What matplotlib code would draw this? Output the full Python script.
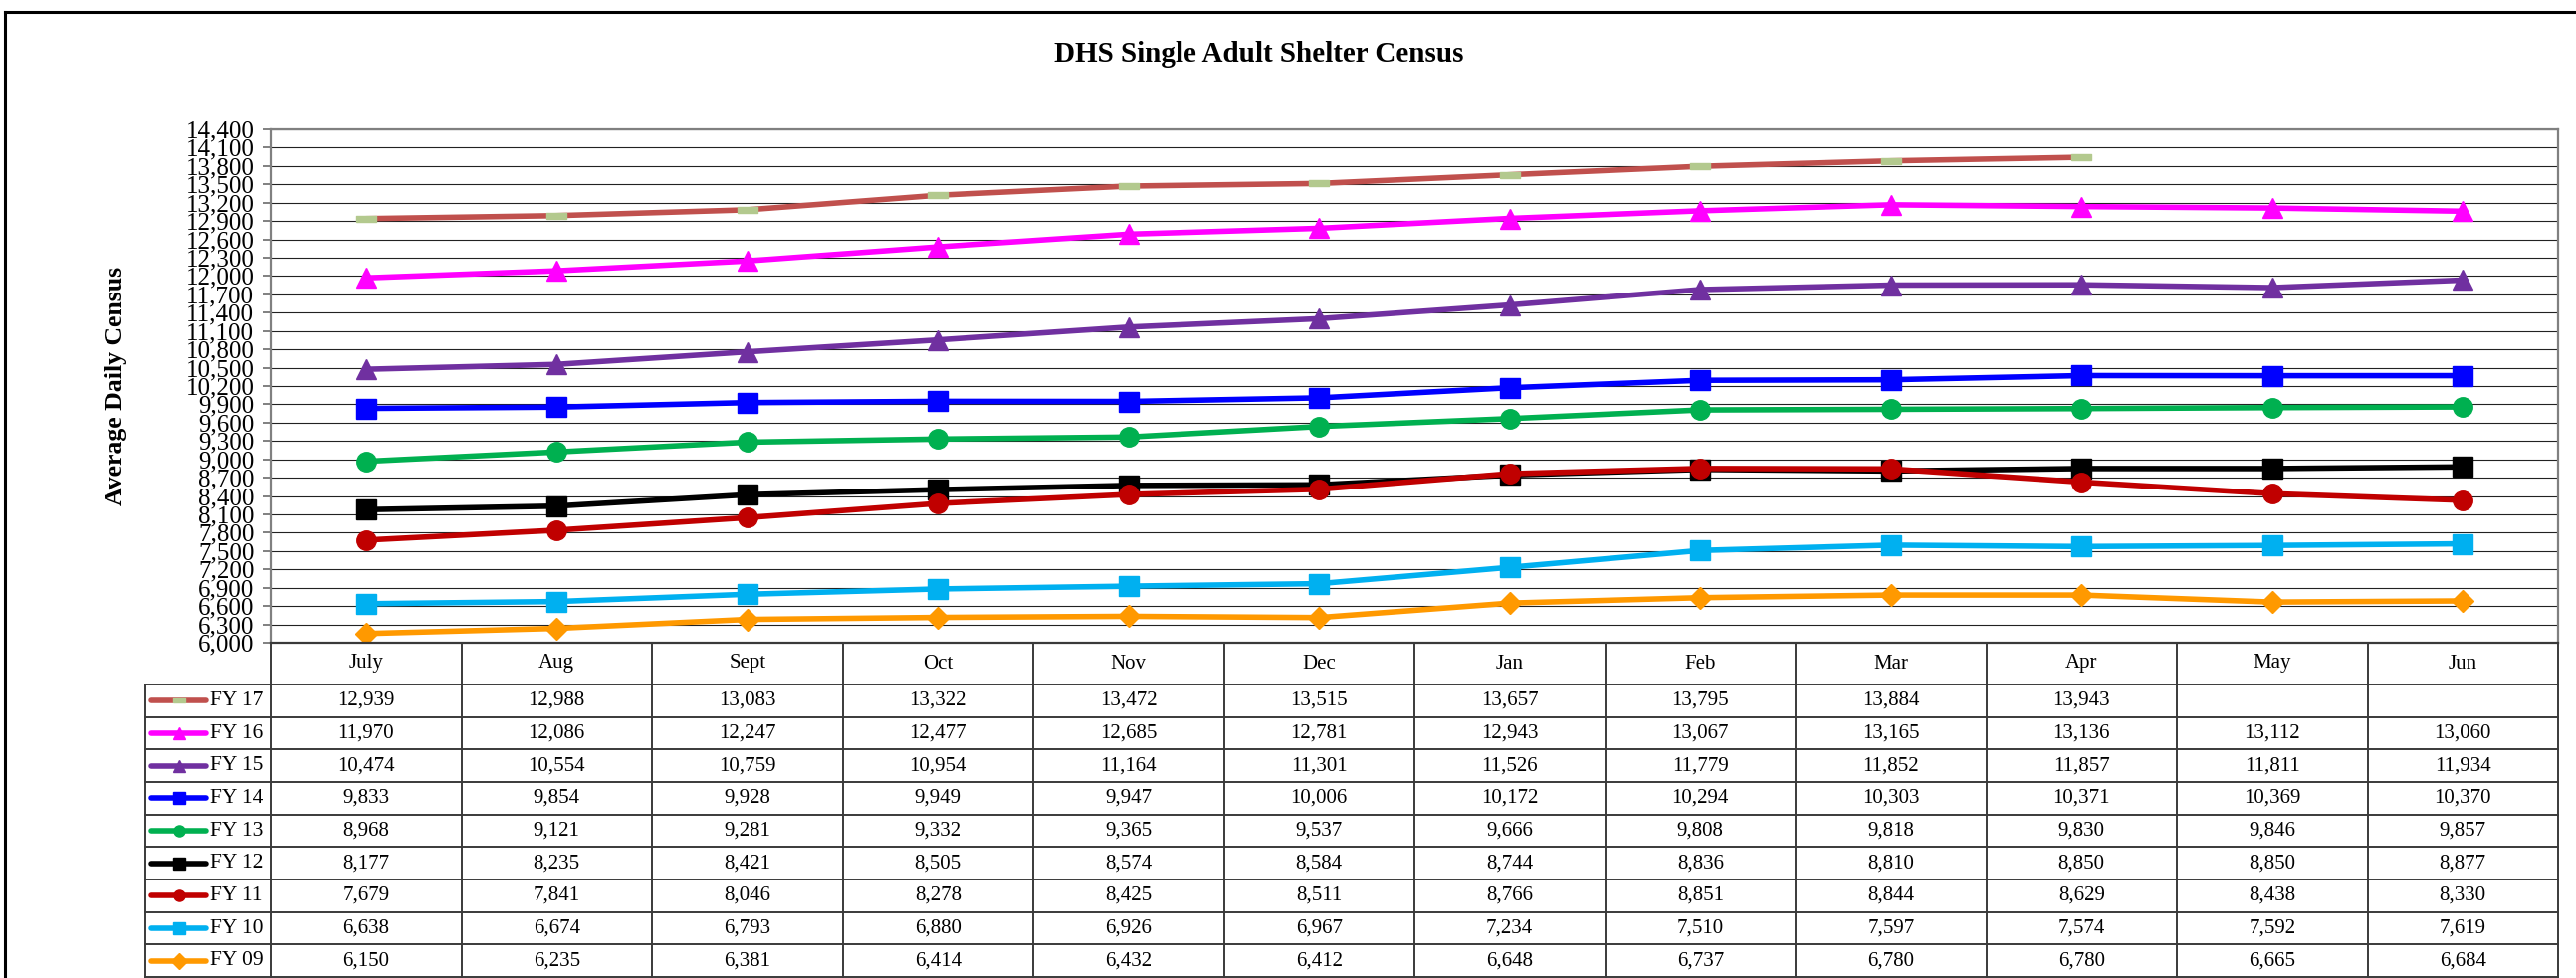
#!/usr/bin/env python3
# -*- coding:utf-8 -*-

import numpy as np
import matplotlib
matplotlib.use('Agg')
import matplotlib.pyplot as plt
from matplotlib.lines import Line2D

plt.rcParams['font.family'] = ['Liberation Serif', 'DejaVu Serif']

## Data: average daily census by fiscal year
months = ["July", "Aug", "Sept", "Oct", "Nov", "Dec", "Jan", "Feb", "Mar", "Apr", "May", "Jun"]
series_names = ["FY 17", "FY 16", "FY 15", "FY 14", "FY 13", "FY 12", "FY 11", "FY 10", "FY 09"]

fy17 = [12939, 12988, 13083, 13322, 13472, 13515, 13657, 13795, 13884, 13943, np.nan, np.nan]
fy16 = [11970, 12086, 12247, 12477, 12685, 12781, 12943, 13067, 13165, 13136, 13112, 13060]
fy15 = [10474, 10554, 10759, 10954, 11164, 11301, 11526, 11779, 11852, 11857, 11811, 11934]
fy14 = [9833, 9854, 9928, 9949, 9947, 10006, 10172, 10294, 10303, 10371, 10369, 10370]
fy13 = [8968, 9121, 9281, 9332, 9365, 9537, 9666, 9808, 9818, 9830, 9846, 9857]
fy12 = [8177, 8235, 8421, 8505, 8574, 8584, 8744, 8836, 8810, 8850, 8850, 8877]
fy11 = [7679, 7841, 8046, 8278, 8425, 8511, 8766, 8851, 8844, 8629, 8438, 8330]
fy10 = [6638, 6674, 6793, 6880, 6926, 6967, 7234, 7510, 7597, 7574, 7592, 7619]
fy09 = [6150, 6235, 6381, 6414, 6432, 6412, 6648, 6737, 6780, 6780, 6665, 6684]

all_series = [fy17, fy16, fy15, fy14, fy13, fy12, fy11, fy10, fy09]

# flat green bar used as the FY 17 marker
bar_marker = [(-1, -0.3), (1, -0.3), (1, 0.3), (-1, 0.3), (-1, -0.3)]

styles = [
    dict(color='#C0504D', marker=bar_marker, mfc='#B3C98E', mec='#B3C98E'),
    dict(color='#FF00FF', marker='^'),
    dict(color='#7030A0', marker='^'),
    dict(color='#0000FF', marker='s'),
    dict(color='#00B050', marker='o'),
    dict(color='#000000', marker='s'),
    dict(color='#C00000', marker='o'),
    dict(color='#00B0F0', marker='s'),
    dict(color='#FF9900', marker='D'),
]

W, H = 2588, 983
fig = plt.figure(figsize=(W / 100, H / 100), dpi=100)

# pixel layout
plot_left, plot_right = 272, 2570
plot_top, plot_bottom = 130, 646
tab_left, tab_bottom = 146, 982

ax = fig.add_axes([plot_left / W, 1 - plot_bottom / H,
                   (plot_right - plot_left) / W, (plot_bottom - plot_top) / H])

x = np.arange(len(months))
for vals, st in zip(all_series, styles):
    st = dict(st)
    ms = 11 if st['marker'] == 'D' else 14
    if st['marker'] is bar_marker:
        ms = 14.5
    ax.plot(x, vals, lw=4, ms=ms, color=st.pop('color'), **st,
            solid_capstyle='round', solid_joinstyle='round')

ax.set_xlim(-0.5, 11.5)
ax.set_ylim(6000, 14400)
ax.set_yticks(np.arange(6000, 14401, 300))
ax.set_yticklabels(['{:,}'.format(v) for v in range(6000, 14401, 300)], fontsize=18)
ax.set_xticks([])
ax.yaxis.grid(True, color='#222222', lw=0.8)
ax.set_axisbelow(True)
ax.tick_params(axis='y', length=6, width=1.4, color='#808080', pad=6)
for side in ('left', 'top', 'right'):
    ax.spines[side].set_color('#808080')
    ax.spines[side].set_linewidth(1.6)
ax.spines['bottom'].set_color('#333333')
ax.spines['bottom'].set_linewidth(1.6)

ax.set_ylabel('Average Daily Census', fontsize=18.5, fontweight='bold', labelpad=42)
fig.text(1265 / W, 1 - 54 / H, 'DHS Single Adult Shelter Census',
         fontsize=21, fontweight='bold', ha='center', va='center')

## Data table below the chart
tab = fig.add_axes([tab_left / W, 1 - tab_bottom / H,
                    (plot_right - tab_left) / W, (tab_bottom - plot_bottom) / H])
cat_w = (plot_right - plot_left) / 12.0
xmin = -0.5 - (plot_left - tab_left) / cat_w
header_h = 42
row_h = (tab_bottom - plot_bottom - header_h) / 9.0
tab.set_xlim(xmin, 11.5)
tab.set_ylim(tab_bottom - plot_bottom, 0)
tab.axis('off')

line_kw = dict(color='#3a3a3a', lw=1.4, clip_on=False)
# horizontal lines
tab.plot([-0.5, 11.5], [0, 0], **line_kw)
for r in range(10):
    y = header_h + r * row_h
    tab.plot([xmin, 11.5], [y, y], **line_kw)
# vertical lines
for k in range(13):
    tab.plot([-0.5 + k, -0.5 + k], [0, tab_bottom - plot_bottom], **line_kw)
tab.plot([xmin, xmin], [header_h, tab_bottom - plot_bottom], **line_kw)

for i, m in enumerate(months):
    tab.text(i, header_h / 2, m, ha='center', va='center', fontsize=15)

for r, (name, vals, st) in enumerate(zip(series_names, all_series, styles)):
    yc = header_h + (r + 0.5) * row_h
    for i, v in enumerate(vals):
        if not np.isnan(v):
            tab.text(i, yc, '{:,}'.format(int(v)), ha='center', va='center', fontsize=15)
    # legend key
    st = dict(st)
    color = st.pop('color')
    x0 = xmin + (152 - tab_left) / cat_w
    x1 = xmin + (207 - tab_left) / cat_w
    key = Line2D([x0, (x0 + x1) / 2, x1], [yc, yc, yc], lw=4, color=color,
                 markevery=[1], ms=8, solid_capstyle='round', clip_on=False, **st)
    tab.add_line(key)
    tab.text(xmin + (211 - tab_left) / cat_w, yc, name, ha='left', va='center', fontsize=15.5)

# outer chart frame
fig.add_artist(Line2D([5 / W, 5 / W], [0, 1 - 12 / H], color='black', lw=2.2,
                      transform=fig.transFigure))
fig.add_artist(Line2D([5 / W, 1], [1 - 12 / H, 1 - 12 / H], color='black', lw=2.2,
                      transform=fig.transFigure))

fig.savefig('out.png', dpi=100)
